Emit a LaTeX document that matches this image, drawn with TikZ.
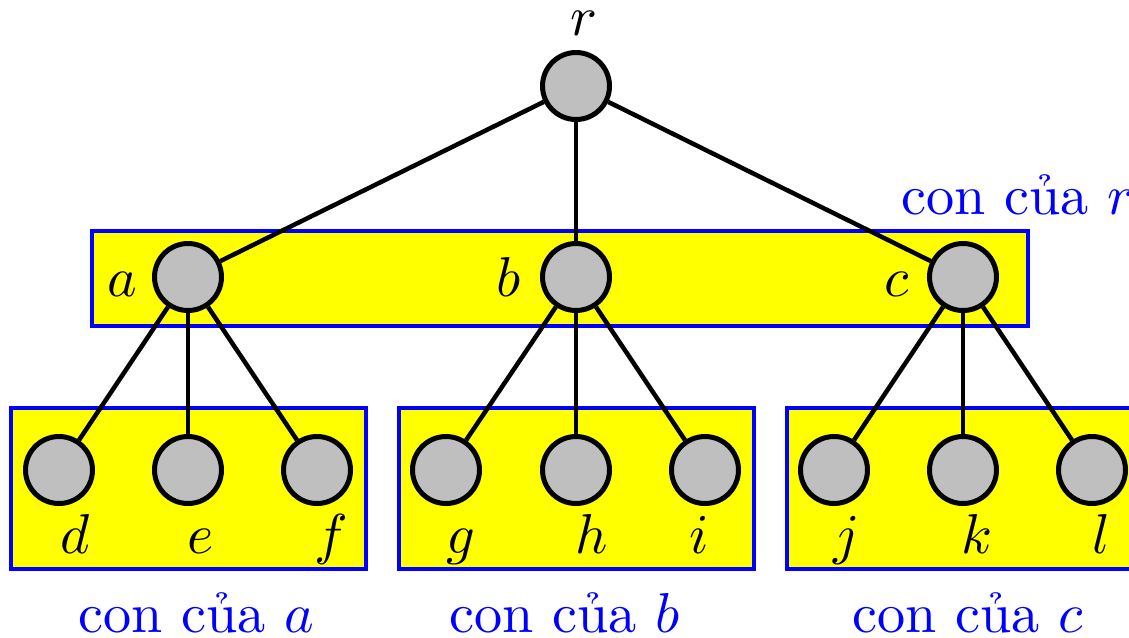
\documentclass[tikz,border=0pt]{standalone}
\definecolor{yel}{RGB}{255,255,0}
\definecolor{blu}{RGB}{0,0,255}
\definecolor{gry}{RGB}{191,191,191}
\begin{document}
\begin{tikzpicture}[x=0.02cm,y=-0.02cm,
  txt/.style={font=\normalsize,scale=3.2},
  vert/.style={circle,draw=black,fill=gry,line width=0.1cm,minimum size=1.34cm,inner sep=0pt},
  link/.style={line width=0.09cm},
  grp/.style={draw=blu,fill=yel,line width=0.08cm},
  lbl/.style={txt,inner sep=0pt},
  captxt/.style={txt,text=blu,inner sep=0pt}]
\useasboundingbox (0,0) rectangle (1129,637);
\clip (0,0) rectangle (1129,637);
% group boxes
\draw[grp] (92,231) rectangle (1028,326);
\draw[grp] (11,408) rectangle (366,569);
\draw[grp] (399,408) rectangle (754,569);
\draw[grp] (787,408) rectangle (1142,569);
% vertices
\node[vert] (r) at (576,86) {};
\node[vert] (a) at (188,277) {};
\node[vert] (b) at (576,277) {};
\node[vert] (c) at (963,277) {};
\node[vert] (d) at (59,470) {};
\node[vert] (e) at (188,470) {};
\node[vert] (f) at (317,470) {};
\node[vert] (g) at (446,470) {};
\node[vert] (h) at (576,470) {};
\node[vert] (i) at (705,470) {};
\node[vert] (j) at (834,470) {};
\node[vert] (k) at (963,470) {};
\node[vert] (l) at (1092,470) {};
% edges
\foreach \p/\q in {r/a,r/b,r/c,a/d,a/e,a/f,b/g,b/h,b/i,c/j,c/k,c/l}
  \draw[link] (\p) -- (\q);
% vertex labels
\node[lbl,anchor=base] (lr) at (584,35) {$r$};
\node[lbl,anchor=base] (la) at (122,296) {$a$};
\node[lbl,anchor=base] (lb) at (509,296) {$b$};
\node[lbl,anchor=base] (lc) at (897,296) {$c$};
\node[lbl,anchor=base] (ld) at (75,553) {$d$};
\node[lbl,anchor=base] (le) at (201,553) {$e$};
\node[lbl,anchor=base] (lf) at (331,553) {$f$};
\node[lbl,anchor=base] (lg) at (461,553) {$g$};
\node[lbl,anchor=base] (lh) at (592,553) {$h$};
\node[lbl,anchor=base] (li) at (699,553) {$i$};
\node[lbl,anchor=base] (lj) at (847,553) {$j$};
\node[lbl,anchor=base] (lk) at (977,553) {$k$};
\node[lbl,anchor=base] (ll) at (1101,553) {$l$};
% captions
\node[captxt,anchor=base west] (cr) at (900,214) {con của $r$};
\node[captxt,anchor=base west] (ca) at (77,632) {con của $a$};
\node[captxt,anchor=base west] (cb) at (448,632) {con của $b$};
\node[captxt,anchor=base west] (cc) at (851,632) {con của $c$};
\end{tikzpicture}
\end{document}
